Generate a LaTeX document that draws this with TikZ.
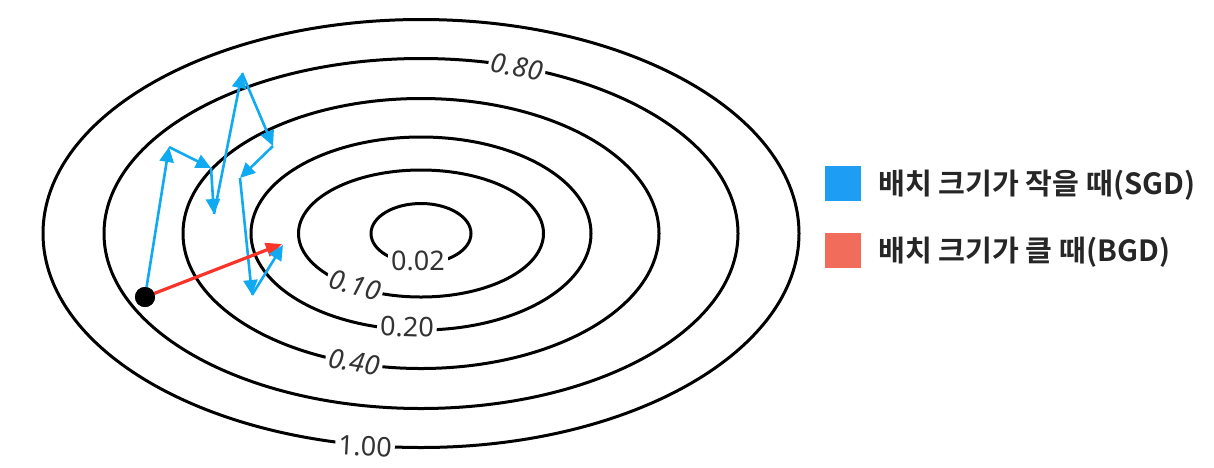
\documentclass[tikz,border=0pt]{standalone}
\usepackage{fontspec}
\setmainfont{Noto Sans}
\newfontfamily\kr{Noto Sans CJK KR}[BoldFont={Noto Sans CJK KR Bold}]
\usetikzlibrary{arrows.meta}
\definecolor{sgdline}{RGB}{16,170,243}
\definecolor{bgdline}{RGB}{250,52,40}
\definecolor{sgdleg}{RGB}{30,158,242}
\definecolor{bgdleg}{RGB}{242,108,92}
\begin{document}
\begin{tikzpicture}[x=0.5pt,y=-0.5pt,
  contour/.style={line width=1.5pt, black},
  lab/.style={fill=white, inner sep=1.5pt, text=black!80, font=\fontsize{13.5}{15}\selectfont},
  itlab/.style={lab, font=\fontsize{13.5}{15}\selectfont\itshape},
  sgd/.style={draw=sgdline, line width=1.3pt, -{Triangle[length=7.5pt,width=7pt]}},
  bgd/.style={draw=bgdline, line width=1.6pt, -{Triangle[length=8pt,width=7pt]}},
  legsq/.style={minimum width=18pt, minimum height=17.5pt, inner sep=0pt},
  legtxt/.style={anchor=west, inner sep=0pt, font=\kr\bfseries\fontsize{14.6}{16}\selectfont, text=black!85}]
\useasboundingbox (0,0) rectangle (1214,467);
\coordinate (c) at (421,233.5);
% contours
\draw[contour] (c) ellipse [x radius=189pt, y radius=107pt];
\draw[contour] (c) ellipse [x radius=158.5pt, y radius=87.5pt];
\draw[contour] (c) ellipse [x radius=119pt, y radius=67.5pt];
\draw[contour] (c) ellipse [x radius=85pt, y radius=48.25pt];
\draw[contour] (c) ellipse [x radius=61.25pt, y radius=31.75pt];
\draw[contour] (c) ellipse [x radius=25pt, y radius=15pt];
% contour labels
\node[itlab, rotate=-10] (l80) at (517,67) {0.80};
\node[lab, rotate=-3] (l100) at (365,446) {1.00};
\node[itlab, rotate=-9] (l40) at (354,362) {0.40};
\node[lab, rotate=-2] (l20) at (407,327) {0.20};
\node[itlab, rotate=-15] (l10) at (355,285) {0.10};
\node[lab] (l02) at (418,261) {0.02};
% path points
\coordinate (p1) at (169,147);
\coordinate (p2) at (211,168);
\coordinate (p3) at (214,214);
\coordinate (p4) at (242,73);
\coordinate (p5) at (273,146);
\coordinate (p6) at (240,178);
\coordinate (p7) at (252,295);
\coordinate (p8) at (283,245);
\coordinate (r1) at (282,244);
\node[circle, fill=black, minimum size=10pt, inner sep=0pt] (dot) at (145,297) {};
% SGD path
\draw[sgd] (dot.center) -- (p1);
\draw[sgd] (p1) -- (p2);
\draw[sgd] (p2) -- (p3);
\draw[sgd] (p3) -- (p4);
\draw[sgd] (p4) -- (p5);
\draw[sgd] (p5) -- (p6);
\draw[sgd] (p6) -- (p7);
% BGD
\draw[bgd] (dot.center) -- (r1);
\draw[sgd] (p7) -- (p8);
\node[circle, fill=black, minimum size=10pt, inner sep=0pt] at (dot) {};
% legend
\node[legsq, fill=sgdleg] (sq1) at (843,183.5) {};
\node[legsq, fill=bgdleg] (sq2) at (843,250.5) {};
\node[legtxt] (t1) at (878,185) {배치 크기가 작을 때(SGD)};
\node[legtxt] (t2) at (878,252) {배치 크기가 클 때(BGD)};
\end{tikzpicture}
\end{document}
